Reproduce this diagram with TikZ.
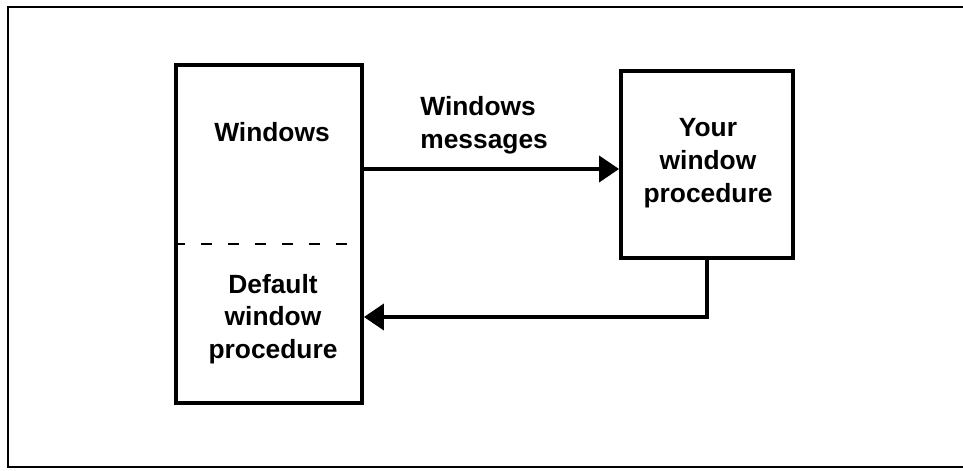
\documentclass[tikz,border=0pt]{standalone}
\usepackage{fontspec}
\setmainfont{Liberation Sans}
\usetikzlibrary{arrows.meta,positioning}

\begin{document}
\begin{tikzpicture}
	[box/.style={draw,line width=2.2pt,inner sep=0pt},
	txt/.style={font=\bfseries\fontsize{15}{18.5}\selectfont,inner sep=0pt,anchor=base},
	msg/.style={line width=2.2pt,-{Triangle[length=0.4cm,width=0.52cm]}},
	]
	\useasboundingbox (0,0) rectangle (19.26,9.4);
	\draw[line width=1.3pt] (19.26,9.26) -- (0.16,9.26) -- (0.16,0.06) -- (19.26,0.06);
	\node (win) [box,minimum width=3.72cm,minimum height=6.76cm] at (5.38,4.72) {};
	\node (proc) [box,minimum width=3.44cm,minimum height=3.74cm] at (14.14,6.11) {};
	\draw[line width=0.8pt,dash pattern=on 0.22cm off 0.32cm] (win.west |- 0,4.52) -- (win.east |- 0,4.52);
	\node (wtop) [txt] at (5.44,6.57) {Windows};
	\node (wbot) [txt,align=center] at (5.46,2.23) {Default\\window\\procedure};
	\node (ptxt) [txt,align=center] at (14.16,5.36) {Your\\window\\procedure};
	\node (mtxt) [txt,align=left,anchor=base west] at (8.4,6.44) {Windows\\messages};
	\draw[msg] (win.east |- 0,6.02) -- (proc.west |- 0,6.02);
	\draw[msg] (proc.south) |- (win.east |- 0,3.06);
\end{tikzpicture}
\end{document}
